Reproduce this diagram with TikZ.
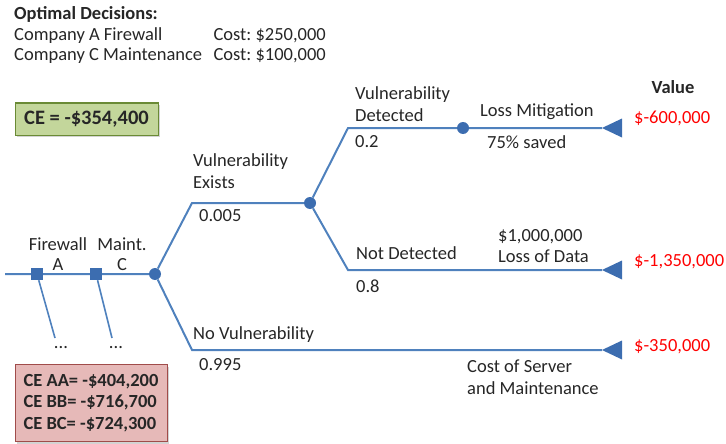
\documentclass[tikz,border=0pt]{standalone}
\usepackage{fontspec}
\setmainfont{Carlito}
\usetikzlibrary{shadows}
\definecolor{branchblue}{HTML}{4F81BD}
\definecolor{nodeblue}{HTML}{3C6DB0}
\definecolor{cegreen}{HTML}{C3D69B}
\definecolor{cegreenline}{HTML}{6A8A35}
\definecolor{cered}{HTML}{E6B9B8}
\definecolor{ceredline}{HTML}{A04C4A}
\definecolor{textgray}{HTML}{262626}
\frenchspacing

\begin{document}
\begin{tikzpicture}[x=1pt,y=-1pt,
    every node/.style={font=\fontsize{18.5}{21.5}\selectfont,text=textgray},
    decision/.style={rectangle,fill=nodeblue,minimum size=12pt,inner sep=0pt},
    chance/.style={circle,fill=nodeblue,minimum size=12pt,inner sep=0pt},
    lbl/.style={anchor=west,align=left,inner sep=0pt},
    val/.style={anchor=west,inner sep=0pt,text=red},
    cebox/.style={draw,line width=1pt,drop shadow={opacity=0.35,shadow xshift=2pt,shadow yshift=-2pt},
                  font=\fontsize{18.5}{21.5}\selectfont\bfseries,align=left},
    branch/.style={draw=branchblue,line width=2pt}
  ]
  \useasboundingbox (0,0) rectangle (726,444);

  % header
  \node[lbl,font=\fontsize{18.5}{21.5}\selectfont\bfseries] (title) at (14,14) {Optimal Decisions:};
  \node[lbl] (optA) at (14,36) {Company A Firewall};
  \node[lbl] (optC) at (14,56) {Company C Maintenance};
  \node[anchor=east,inner sep=0pt] (costA) at (326,36) {Cost: \$250,000};
  \node[anchor=east,inner sep=0pt] (costC) at (326,56) {Cost: \$100,000};

  % result boxes
  \node[cebox,fill=cegreen,draw=cegreenline,minimum width=143pt,minimum height=32pt,
        font=\fontsize{20.5}{23}\selectfont\bfseries] (ce) at (86.5,119) {CE = -\$354,400};
  \node[cebox,fill=cered,draw=ceredline,minimum width=152pt,minimum height=77pt] (ceother) at (91,403)
      {CE AA= -\$404,200\\CE BB= -\$716,700\\CE BC= -\$724,300};

  % tree points
  \coordinate (start) at (5,274);
  \coordinate (up1) at (192,203);
  \coordinate (down1) at (192,350);
  \coordinate (up2) at (348,128);
  \coordinate (down2) at (348,270);
  \coordinate (endMit) at (602,128);
  \coordinate (endND) at (602,270);
  \coordinate (endNo) at (602,350);
  \coordinate (otherA) at (55,338);
  \coordinate (otherC) at (112,338);

  % nodes on the tree
  \node[decision] (fwA) at (37,274) {};
  \node[decision] (mtC) at (96,274) {};
  \node[chance] (root) at (155,274) {};
  \node[chance] (vuln) at (310,203) {};
  \node[chance] (mitig) at (463,128) {};
  \foreach \e in {endMit,endND,endNo}
    \fill[nodeblue] (\e) -- ++(20,-9.5) -- ++(0,19) -- cycle;

  % branches
  \path[branch] (start) -- (fwA) -- (mtC) -- (root) -- (up1) -- (vuln) -- (up2) -- (mitig) -- (endMit);
  \path[branch] (vuln) -- (down2) -- (endND);
  \path[branch] (root) -- (down1) -- (endNo);
  \path[branch,line width=1.6pt] (fwA) -- (otherA);
  \path[branch,line width=1.6pt] (mtC) -- (otherC);

  % decision labels
  \node (fwLbl) at (58,244) {Firewall};
  \node (fwSub) at (58,265) {A};
  \node (mtLbl) at (122,244) {Maint.};
  \node (mtSub) at (122,265) {C};
  \node (dotsA) at (61,348) {...};
  \node (dotsC) at (116,348) {...};

  % branch labels
  \node[lbl] (exists) at (193,171) {Vulnerability\\Exists};
  \node[lbl] (pExists) at (199,216) {0.005};
  \node[lbl] (noVuln) at (193,335) {No Vulnerability};
  \node[lbl] (pNo) at (199,365) {0.995};
  \node[lbl] (detected) at (355,104) {Vulnerability\\Detected};
  \node[lbl] (pDet) at (355,142) {0.2};
  \node[lbl] (notDet) at (356,253) {Not Detected};
  \node[lbl] (pNot) at (356,286) {0.8};
  \node[lbl] (mitLbl) at (480,112) {Loss Mitigation};
  \node[lbl] (mitSub) at (487,142) {75\% saved};
  \node[lbl] (lossLbl) at (498,246) {\$1,000,000\\Loss of Data};
  \node[lbl] (costLbl) at (467,377) {Cost of Server\\and Maintenance};

  % values
  \node[font=\fontsize{18.5}{21.5}\selectfont\bfseries] (valHead) at (673,87) {Value};
  \node[val] (valMit) at (634,118) {\$-600,000};
  \node[val] (valND) at (634,262) {\$-1,350,000};
  \node[val] (valNo) at (634,347) {\$-350,000};
\end{tikzpicture}
\end{document}
